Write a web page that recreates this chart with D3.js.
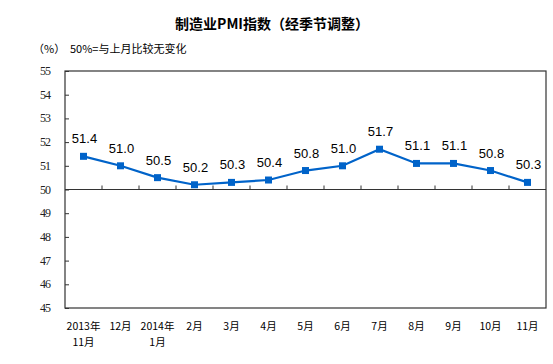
<!DOCTYPE html>
<html><head><meta charset="utf-8">
<script src="https://cdn.jsdelivr.net/npm/d3@7"></script>
<style>body{margin:0;background:#fff}</style>
</head><body>
<svg id="c" width="553" height="364"></svg>
<script>
const categories = ["2013年\n11月","12月","2014年\n1月","2月","3月","4月","5月","6月","7月","8月","9月","10月","11月"];
const values = [51.4,51.0,50.5,50.2,50.3,50.4,50.8,51.0,51.7,51.1,51.1,50.8,50.3];
const yTicks = [45,46,47,48,49,50,51,52,53,54,55];
const title = "制造业PMI指数（经季节调整）";
const unitLabel = "（%）";
const note = "50%=与上月比较无变化";

const svg = d3.select("#c");
const L=65,R=546,T=71,B=308;
const x = d3.scaleBand().domain(d3.range(categories.length)).range([L,R]);
const y = d3.scaleLinear().domain([45,55]).range([B,T]);
const blue = "#0063C9";
const cjk = "'Noto Sans CJK SC', sans-serif";

svg.append("text").attr("x",272).attr("y",29).attr("text-anchor","middle")
  .attr("font-family",cjk).attr("font-size",14).attr("font-weight","bold").attr("fill","#000").text(title);
svg.append("text").attr("x",33).attr("y",53).attr("font-family",cjk).attr("font-size",11).text(unitLabel);
svg.append("text").attr("x",70).attr("y",53).attr("font-family",cjk).attr("font-size",11).text(note);

// frame
svg.append("rect").attr("x",L).attr("y",T).attr("width",R-L).attr("height",B-T)
  .attr("fill","none").attr("stroke","#333").attr("stroke-width",1.2);

// y axis
const ya = svg.append("g").attr("transform",`translate(${L},0)`)
  .call(d3.axisRight(y).tickValues(yTicks).tickSize(4).tickFormat(""));
ya.select(".domain").remove();
ya.selectAll("line").attr("stroke","#333");
svg.append("g").selectAll("text").data(yTicks).join("text")
  .attr("x",50).attr("y",d=>y(d)+4).attr("text-anchor","end")
  .attr("font-family","'Liberation Serif', serif").attr("font-size",12).attr("letter-spacing",-1)
  .attr("fill","#222").text(d=>d);

// x axis at 50
const xa = svg.append("g").attr("transform",`translate(0,${y(50)})`);
xa.append("line").attr("x1",L).attr("x2",R).attr("stroke","#333").attr("stroke-width",1.2);
xa.selectAll(".tk").data(d3.range(1,categories.length)).join("line")
  .attr("x1",i=>L+i*x.bandwidth()).attr("x2",i=>L+i*x.bandwidth())
  .attr("y1",0).attr("y2",-4).attr("stroke","#333");

// x labels (each line its own text)
const xl = svg.append("g");
categories.forEach((c,i)=>{
  c.split("\n").forEach((ln,j)=>{
    xl.append("text").attr("x",x(i)+x.bandwidth()/2).attr("y",330+j*15.5)
      .attr("text-anchor","middle").attr("font-family",cjk).attr("font-size",10.5).attr("fill","#000").text(ln);
  });
});

// line
const cx = i=>x(i)+x.bandwidth()/2;
svg.append("path").datum(values)
  .attr("d",d3.line().x((d,i)=>cx(i)).y(d=>y(d)))
  .attr("fill","none").attr("stroke",blue).attr("stroke-width",2.2);
svg.selectAll(".m").data(values).join("rect")
  .attr("x",(d,i)=>cx(i)-3.5).attr("y",d=>y(d)-3.5).attr("width",7).attr("height",7).attr("fill",blue);
svg.selectAll(".lb").data(values).join("text")
  .attr("x",(d,i)=>cx(i)+1).attr("y",d=>y(d)-13).attr("text-anchor","middle")
  .attr("font-family","'Liberation Sans', Arial, sans-serif").attr("font-size",13).attr("fill","#000")
  .text(d=>d.toFixed(1));
</script>
</body></html>
